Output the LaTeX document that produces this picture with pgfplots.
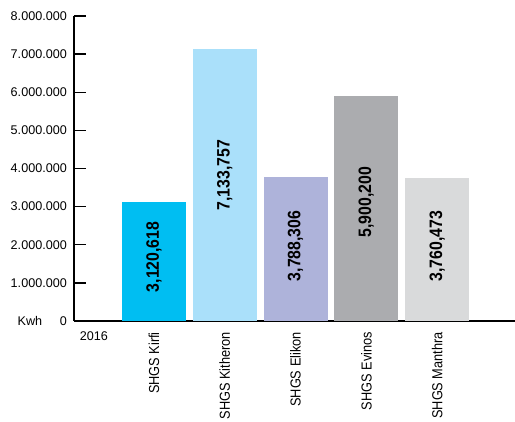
\documentclass[border=0pt]{standalone}
\usepackage{fontspec}
\setmainfont{Liberation Sans}
\newfontfamily\condfont[FakeStretch=0.88]{Liberation Sans}
\usepackage{pgfplots}
\pgfplotsset{compat=1.18}

\definecolor{cKirfi}{HTML}{00BEF2}
\definecolor{cKith}{HTML}{AAE0FA}
\definecolor{cElik}{HTML}{AEB3DA}
\definecolor{cEvin}{HTML}{ABACAF}
\definecolor{cMant}{HTML}{D9DADB}

\begin{document}
\begin{tikzpicture}
\begin{axis}[%
scale only axis,
width=441pt, height=305pt,
xmin=-0.13, xmax=6.1,
ymin=0, ymax=8000000,
axis lines*=left,
axis line style={line width=1.3pt, black},
clip=false,
xtick={1,2,3,4,5},
xticklabels={SHGS Kirfi,SHGS Kitheron,SHGS Elikon,SHGS Evinos,SHGS Manthra},
xtick style={draw=none},
xticklabel style={yshift=-11pt, rotate=90, anchor=east, inner sep=0pt,
  font=\condfont\fontsize{14.5}{16}\selectfont},
ytick={0,1000000,2000000,3000000,4000000,5000000,6000000,7000000,8000000},
scaled y ticks=false,
ytick style={line width=1.3pt, black},
tick align=inside,
major tick length=12pt,
yticklabel style={inner sep=0pt, xshift=-7pt, font=\fontsize{12.6}{14}\selectfont},
/pgf/number format/.cd, fixed, use period, 1000 sep={.}, assume math mode=true,
/pgfplots/.cd,
bar width=0.905,
]
\addplot[ybar, bar shift=0pt, draw=none, fill=cKirfi] coordinates {(1,3120618)};
\addplot[ybar, bar shift=0pt, draw=none, fill=cKith] coordinates {(2,7133757)};
\addplot[ybar, bar shift=0pt, draw=none, fill=cElik] coordinates {(3,3788306)};
\addplot[ybar, bar shift=0pt, draw=none, fill=cEvin] coordinates {(4,5900200)};
\addplot[ybar, bar shift=0pt, draw=none, fill=cMant] coordinates {(5,3760473)};
\addplot[only marks, mark=none, nodes near coords, point meta=explicit symbolic,
  nodes near coords style={rotate=90, anchor=center, inner sep=0pt, text=black,
    font=\condfont\bfseries\fontsize{18}{20}\selectfont}]
  coordinates {
  (1,1680000) [3,120,618]
  (2,3830000) [7,133,757]
  (3,1970000) [3,788,306]
  (4,3120000) [5,900,200]
  (5,1960000) [3,760,473]
};
\node[anchor=center, font=\fontsize{12.6}{14}\selectfont] at (rel axis cs:0,0) [xshift=-44pt] {Kwh};
\node[anchor=north, inner sep=0pt, font=\fontsize{12.6}{14}\selectfont] at (axis cs:0.15,0) [yshift=-11pt] {2016};
\coordinate (bl) at (rel axis cs:0,0);
\coordinate (tr) at (rel axis cs:1,1);
\end{axis}
\pgfresetboundingbox
\path ([xshift=-74pt,yshift=-101pt]bl) rectangle ([yshift=16pt]tr);
\end{tikzpicture}
\end{document}
